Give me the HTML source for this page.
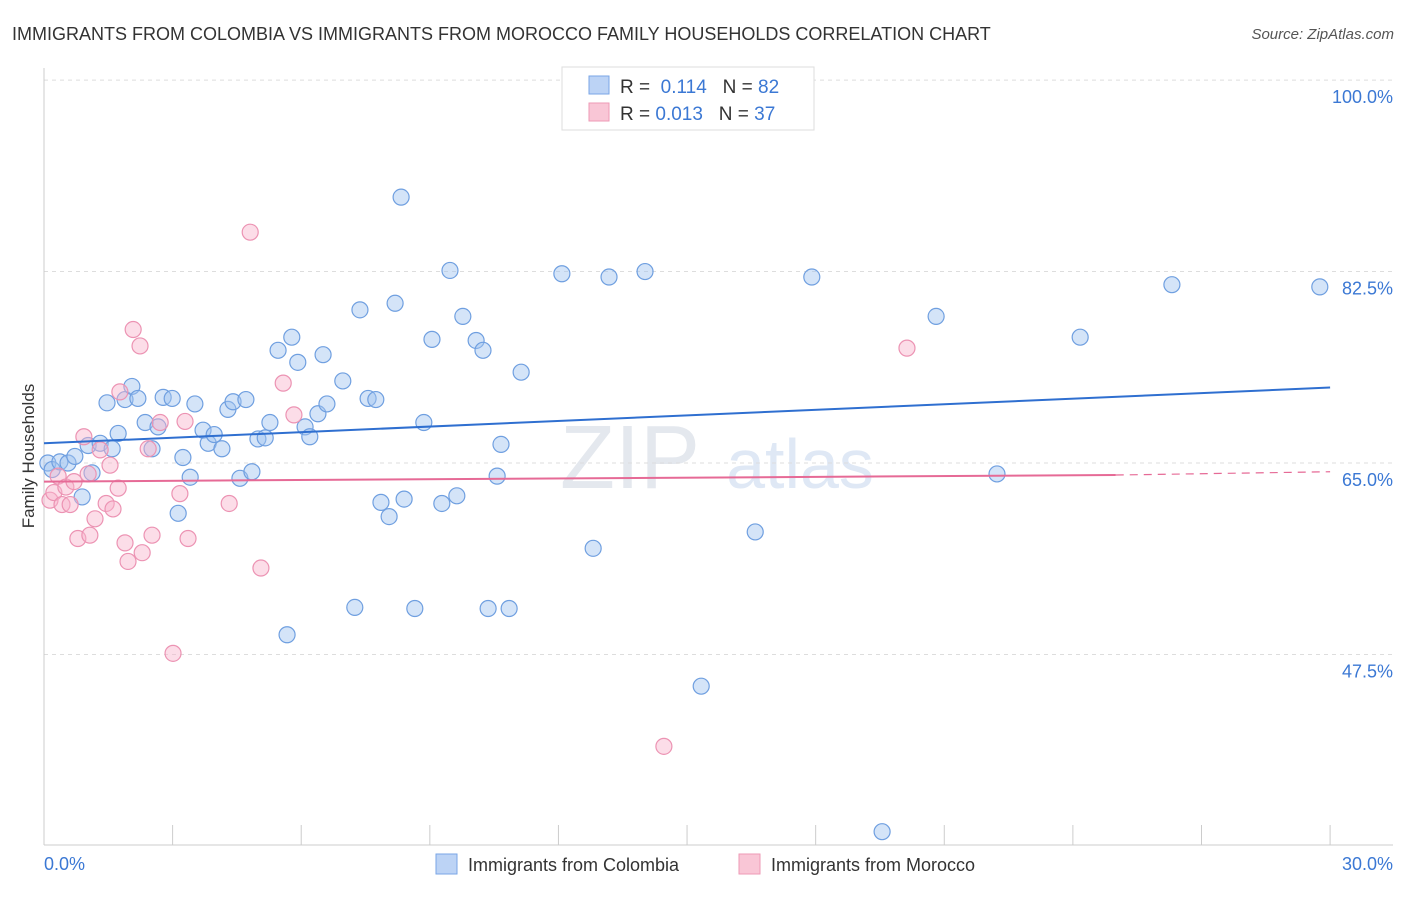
<!DOCTYPE html>
<html><head><meta charset="utf-8"><style>
body{margin:0;background:#fff;font-family:"Liberation Sans",sans-serif}
svg text{font-family:"Liberation Sans",sans-serif}
</style></head><body>
<svg id="c" width="1406" height="892" xmlns="http://www.w3.org/2000/svg">
<text x="12" y="40" font-size="18" fill="#333">IMMIGRANTS FROM COLOMBIA VS IMMIGRANTS FROM MOROCCO FAMILY HOUSEHOLDS CORRELATION CHART</text>
<text x="1394" y="39" font-size="15" fill="#555" text-anchor="end" font-style="italic">Source: ZipAtlas.com</text>
<text x="630" y="488" font-size="90" fill="#e4e8ee" font-family="Liberation Serif" text-anchor="middle">ZIP</text>
<text x="800" y="488" font-size="70" fill="#dfe8f5" text-anchor="middle">atlas</text>
<g id="grid"></g><g id="marks"></g>
<text x="34" y="456" font-size="17" fill="#333" text-anchor="middle" transform="rotate(-90 34 456)">Family Households</text>
<g>
<rect x="562" y="67" width="252" height="63" fill="#fff" stroke="#ddd"/>
<rect x="589" y="76" width="20" height="18" fill="#bcd3f5" stroke="#7aa6e6"/>
<rect x="589" y="103" width="20" height="18" fill="#f9c6d6" stroke="#ee9ab6"/>
<text x="620" y="93" font-size="19" fill="#333">R = <tspan fill="#3b78d4">&#160;0.114</tspan>&#160;&#160;&#160;N = <tspan fill="#3b78d4">82</tspan></text>
<text x="620" y="120" font-size="19" fill="#333">R = <tspan fill="#3b78d4">0.013</tspan>&#160;&#160;&#160;N = <tspan fill="#3b78d4">37</tspan></text>
</g>
<g>
<rect x="436" y="854" width="21" height="20" fill="#bcd3f5" stroke="#7aa6e6"/>
<text x="468" y="871" font-size="18" fill="#333">Immigrants from Colombia</text>
<rect x="739" y="854" width="21" height="20" fill="#f9c6d6" stroke="#ee9ab6"/>
<text x="771" y="871" font-size="18" fill="#333">Immigrants from Morocco</text>
</g>
</svg>
<script>
const blueX=[0.09,0.19,0.37,0.56,0.72,0.89,1.03,1.12,1.31,1.47,1.59,1.73,1.89,2.05,2.19,2.36,2.52,2.66,2.78,2.99,3.13,3.24,3.41,3.52,3.71,3.83,3.97,4.15,4.29,4.41,4.57,4.71,4.85,4.99,5.16,5.27,5.46,5.67,5.78,5.92,6.09,6.20,6.39,6.51,6.60,6.97,7.25,7.37,7.56,7.74,7.86,8.05,8.19,8.33,8.40,8.65,8.86,9.05,9.28,9.47,9.63,9.77,10.08,10.24,10.36,10.57,10.66,10.85,11.13,12.08,12.81,13.18,14.02,15.33,16.59,17.91,19.55,20.81,22.23,24.17,26.31,29.76];
const blueY=[65.0,64.4,65.1,65.0,65.6,61.9,66.6,64.1,66.8,70.5,66.3,67.7,70.8,72.0,70.9,68.7,66.3,68.3,71.0,70.9,60.4,65.5,63.7,70.4,68.0,66.8,67.6,66.3,69.9,70.6,63.6,70.8,64.2,67.2,67.3,68.7,75.3,49.3,76.5,74.2,68.3,67.4,69.5,74.9,70.4,72.5,51.8,79.0,70.9,70.8,61.4,60.1,79.6,89.3,61.7,51.7,68.7,76.3,61.3,82.6,62.0,78.4,76.2,75.3,51.7,63.8,66.7,51.7,73.3,82.3,57.2,82.0,82.5,44.6,58.7,82.0,31.3,78.4,64.0,76.5,81.3,81.1];
const pinkX=[0.14,0.23,0.33,0.42,0.51,0.61,0.70,0.79,0.93,1.03,1.07,1.19,1.31,1.45,1.54,1.61,1.73,1.77,1.89,1.96,2.08,2.24,2.29,2.43,2.52,2.71,3.01,3.17,3.29,3.36,4.32,4.81,5.06,5.58,5.83,14.46,20.13];
const pinkY=[61.6,62.3,63.8,61.2,62.8,61.2,63.3,58.1,67.4,64.0,58.4,59.9,66.2,61.3,64.8,60.8,62.7,71.5,57.7,56.0,77.2,75.7,56.8,66.3,58.4,68.7,47.6,62.2,68.8,58.1,61.3,86.1,55.4,72.3,69.4,39.1,75.5];
const yTicks=[100,82.5,65,47.5];
const yTickLabels=["100.0%","82.5%","65.0%","47.5%"];
const blueTrend=[[0,66.8],[30,71.9]];
const pinkTrend=[[0,63.3],[25,63.9],[30,64.2]];
const NS="http://www.w3.org/2000/svg";
const xs=v=>44+v*42.87, ys=v=>463-(v-65)*10.94;
function mk(t,a,p){const e=document.createElementNS(NS,t);for(const k in a)e.setAttribute(k,a[k]);p.appendChild(e);return e;}
const g=document.getElementById('grid'),m=document.getElementById('marks');
yTicks.forEach((t,i)=>{
 const l=mk('line',{x1:44,x2:1393,y1:ys(t),y2:ys(t),stroke:'#ddd','stroke-dasharray':'4,4'},g);
 
 
 const tx=mk('text',{x:1393,y:ys(t)+23,'font-size':18,fill:'#3b78d4','text-anchor':'end'},g);
 tx.textContent=yTickLabels[i];
 
 
});
mk('line',{x1:44,x2:44,y1:68,y2:845,stroke:'#ccc'},g);
mk('line',{x1:44,x2:1393,y1:845,y2:845,stroke:'#ccc'},g);
for(let i=0;i<=10;i++){const t=mk('line',{x1:xs(i*3),x2:xs(i*3),y1:825,y2:845,stroke:'#ccc'},g);}
const x0=mk('text',{x:44,y:870,'font-size':18,fill:'#3b78d4'},g);x0.textContent='0.0%';


const x1=mk('text',{x:1393,y:870,'font-size':18,fill:'#3b78d4','text-anchor':'end'},g);x1.textContent='30.0%';


blueX.forEach((x,i)=>{const c=mk('circle',{cx:xs(x),cy:ys(blueY[i]),r:8,fill:'rgba(160,195,240,0.45)',stroke:'#6f9fe0','stroke-width':1.2},m);
 
 });
pinkX.forEach((x,i)=>{const c=mk('circle',{cx:xs(x),cy:ys(pinkY[i]),r:8,fill:'rgba(248,180,205,0.45)',stroke:'#ec93b3','stroke-width':1.2},m);
 
 });
const bl=mk('line',{x1:xs(blueTrend[0][0]),y1:ys(blueTrend[0][1]),x2:xs(blueTrend[1][0]),y2:ys(blueTrend[1][1]),stroke:'#2f6fd0','stroke-width':2},m);


const pl=mk('line',{x1:xs(pinkTrend[0][0]),y1:ys(pinkTrend[0][1]),x2:xs(pinkTrend[1][0]),y2:ys(pinkTrend[1][1]),stroke:'#e66a96','stroke-width':2},m);


const pd=mk('line',{x1:xs(pinkTrend[1][0]),y1:ys(pinkTrend[1][1]),x2:xs(pinkTrend[2][0]),y2:ys(pinkTrend[2][1]),stroke:'#e66a96','stroke-width':1.2,'stroke-dasharray':'8,6'},m);


</script>
</body></html>
